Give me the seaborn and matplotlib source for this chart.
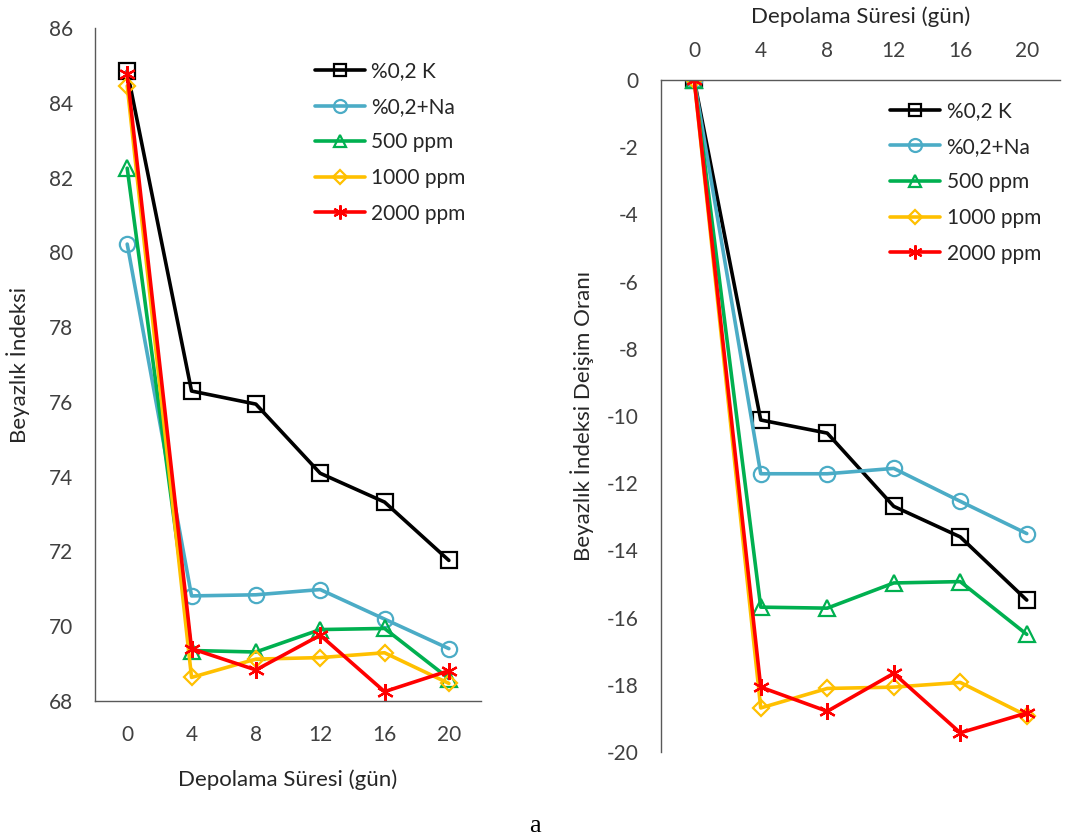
import matplotlib
matplotlib.use("Agg")
import matplotlib.pyplot as plt
import seaborn as sns
import pandas as pd
import numpy as np

days = ["0", "4", "8", "12", "16", "20"]
series_names = ["%0,2 K", "%0,2+Na", "500 ppm", "1000 ppm", "2000 ppm"]

# Left panel: Beyazlık İndeksi
wi_k = [84.85, 76.29, 75.94, 74.09, 73.32, 71.76]
wi_na = [80.22, 70.81, 70.84, 70.98, 70.19, 69.40]
wi_500 = [82.25, 69.35, 69.31, 69.91, 69.94, 68.60]
wi_1000 = [84.45, 68.63, 69.12, 69.16, 69.29, 68.47]
wi_2000 = [84.76, 69.40, 68.83, 69.76, 68.25, 68.81]

# Right panel: Beyazlık İndeksi Değişim Oranı
ch_k = [0, -10.12, -10.51, -12.69, -13.60, -15.48]
ch_na = [0, -11.72, -11.72, -11.56, -12.54, -13.50]
ch_500 = [0, -15.69, -15.72, -14.97, -14.93, -16.50]
ch_1000 = [0, -18.69, -18.11, -18.07, -17.93, -18.92]
ch_2000 = [0, -18.07, -18.79, -17.66, -19.43, -18.84]

colors = ["#000000", "#4BACC6", "#00B050", "#FFC000", "#FF0000"]
markers = ["s", "o", "^", "D", (6, 2, 0)]
msizes = [11, 11, 11, 8, 12]

sns.set_theme(style="white")
plt.rcParams["font.family"] = ["Lato", "DejaVu Sans"]
plt.rcParams["axes.unicode_minus"] = False

fig = plt.figure(figsize=(10.69, 8.40), dpi=100)
ax1 = fig.add_axes([0.0889, 0.1655, 0.3611, 0.8012])
ax2 = fig.add_axes([0.6183, 0.1048, 0.3733, 0.8000])

def build(vals):
    rows = []
    for name, v in zip(series_names, vals):
        for i, d in enumerate(days):
            rows.append({"pos": i, "day": d, "value": v[i], "series": name})
    return pd.DataFrame(rows)

df1 = build([wi_k, wi_na, wi_500, wi_1000, wi_2000])
df2 = build([ch_k, ch_na, ch_500, ch_1000, ch_2000])

for ax, df in [(ax1, df1), (ax2, df2)]:
    for name, c, m, ms in zip(series_names, colors, markers, msizes):
        sub = df[df["series"] == name]
        sns.lineplot(data=sub, x="pos", y="value", ax=ax, color=c, lw=2.6,
                     marker=m, markersize=ms, markerfacecolor="none",
                     markeredgecolor=c, markeredgewidth=1.6, label=name,
                     legend=False)
    ax.set_xlim(-0.5, 5.5)
    ax.set_xticks(range(len(days)))
    ax.set_xticklabels(days)
    ax.tick_params(length=0, labelsize=15, colors="#404040")
    for s in ax.spines.values():
        s.set_color("#595959")
        s.set_linewidth(1.0)

# Left axes
ax1.set_ylim(68, 86)
ax1.set_yticks(np.arange(68, 87, 2))
ax1.tick_params(axis="y", pad=16)
ax1.tick_params(axis="x", pad=17)
ax1.spines["top"].set_visible(False)
ax1.spines["right"].set_visible(False)
ax1.set_xlabel("Depolama Süresi (gün)", fontsize=16, color="#262626")
ax1.set_ylabel("Beyazlık İndeksi", fontsize=16, color="#262626")
ax1.xaxis.set_label_coords(0.5, -0.102)
ax1.yaxis.set_label_coords(-0.168, 0.5)
leg1 = ax1.legend(loc="upper left", bbox_to_anchor=(0.547, 0.963), frameon=False,
                  fontsize=15, handlelength=2.4, handletextpad=0.3,
                  labelspacing=0.75, borderaxespad=0, markerscale=0.85)

# Right axes
ax2.set_ylim(-20, 0)
ax2.set_yticks(np.arange(-20, 1, 2))
ax2.xaxis.set_ticks_position("top")
ax2.xaxis.set_label_position("top")
ax2.tick_params(axis="y", pad=16)
ax2.tick_params(axis="x", pad=14)
ax2.spines["bottom"].set_visible(False)
ax2.spines["right"].set_visible(False)
ax2.set_xlabel("Depolama Süresi (gün)", fontsize=16, color="#262626")
ax2.set_ylabel("Beyazlık İndeksi Deişim Oranı", fontsize=16, color="#262626")
ax2.xaxis.set_label_coords(0.5, 1.085)
ax2.yaxis.set_label_coords(-0.168, 0.5)
leg2 = ax2.legend(loc="upper left", bbox_to_anchor=(0.554, 0.981), frameon=False,
                  fontsize=15, handlelength=2.4, handletextpad=0.3,
                  labelspacing=0.75, borderaxespad=0, markerscale=0.85)

fig.text(0.5, 0.004, "a", ha="center", va="bottom", fontsize=19,
         family="Liberation Serif", color="black")

fig.savefig("out.png", dpi=100, facecolor="white")
